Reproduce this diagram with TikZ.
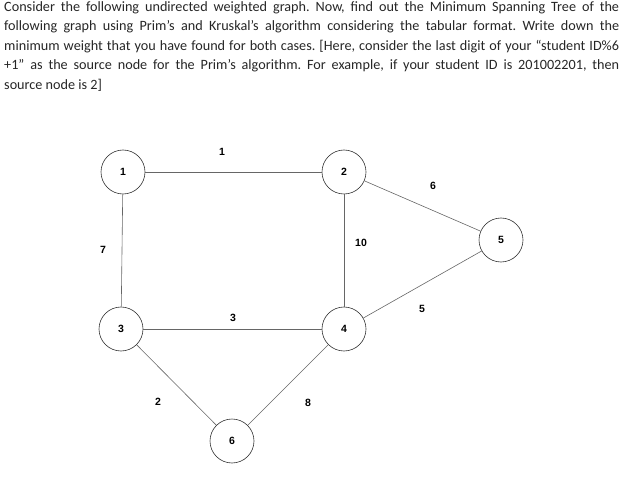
\documentclass[tikz,border=0pt]{standalone}
\usepackage{fontspec}
\setmainfont{Carlito}
\newfontfamily\labfont{Liberation Sans}
\begin{document}
\begin{tikzpicture}[x=1pt,y=-1pt,
  vtx/.style={circle,draw=black!80,line width=0.6pt,minimum size=44pt,inner sep=0pt,font=\labfont\bfseries\fontsize{10.5}{12}\selectfont},
  lbl/.style={font=\labfont\bfseries\fontsize{10.5}{12}\selectfont},
  edge/.style={draw=black!60,line width=0.6pt}]
\useasboundingbox (0,0) rectangle (624,481);
\node[anchor=north west,inner sep=0pt,text width=615pt,align=justify,font=\fontsize{14.2}{19.6}\selectfont\frenchspacing,text=black!85] (txt) at (4,1)
{Consider the following undirected weighted graph. Now, find out the Minimum Spanning Tree of the\linebreak
following graph using Prim's and Kruskal's algorithm considering the tabular format. Write down the\linebreak
minimum weight that you have found for both cases. [Here, consider the last digit of your ``student ID\%6\linebreak
+1'' as the source node for the Prim's algorithm. For example, if your student ID is 201002201, then\linebreak
source node is 2]\par};
\node[vtx] (n1) at (123,172) {1};
\node[vtx] (n2) at (344,172) {2};
\node[vtx] (n5) at (501,240) {5};
\node[vtx] (n3) at (121,329) {3};
\node[vtx] (n4) at (344,329) {4};
\node[vtx] (n6) at (232,441) {6};
\path[edge] (n1) -- (n2);
\path[edge] (n1) -- (n3);
\path[edge] (n2) -- (n4);
\path[edge] (n2) -- (n5);
\path[edge] (n4) -- (n5);
\path[edge] (n3) -- (n4);
\path[edge] (n3) -- (n6);
\path[edge] (n4) -- (n6);
\node[lbl] (w12) at (222,152) {1};
\node[lbl] (w13) at (103,250) {7};
\node[lbl] (w24) at (361,243) {10};
\node[lbl] (w25) at (433,186) {6};
\node[lbl] (w45) at (422,309) {5};
\node[lbl] (w34) at (233,318) {3};
\node[lbl] (w36) at (158,402) {2};
\node[lbl] (w46) at (308,403) {8};
\end{tikzpicture}
\end{document}
